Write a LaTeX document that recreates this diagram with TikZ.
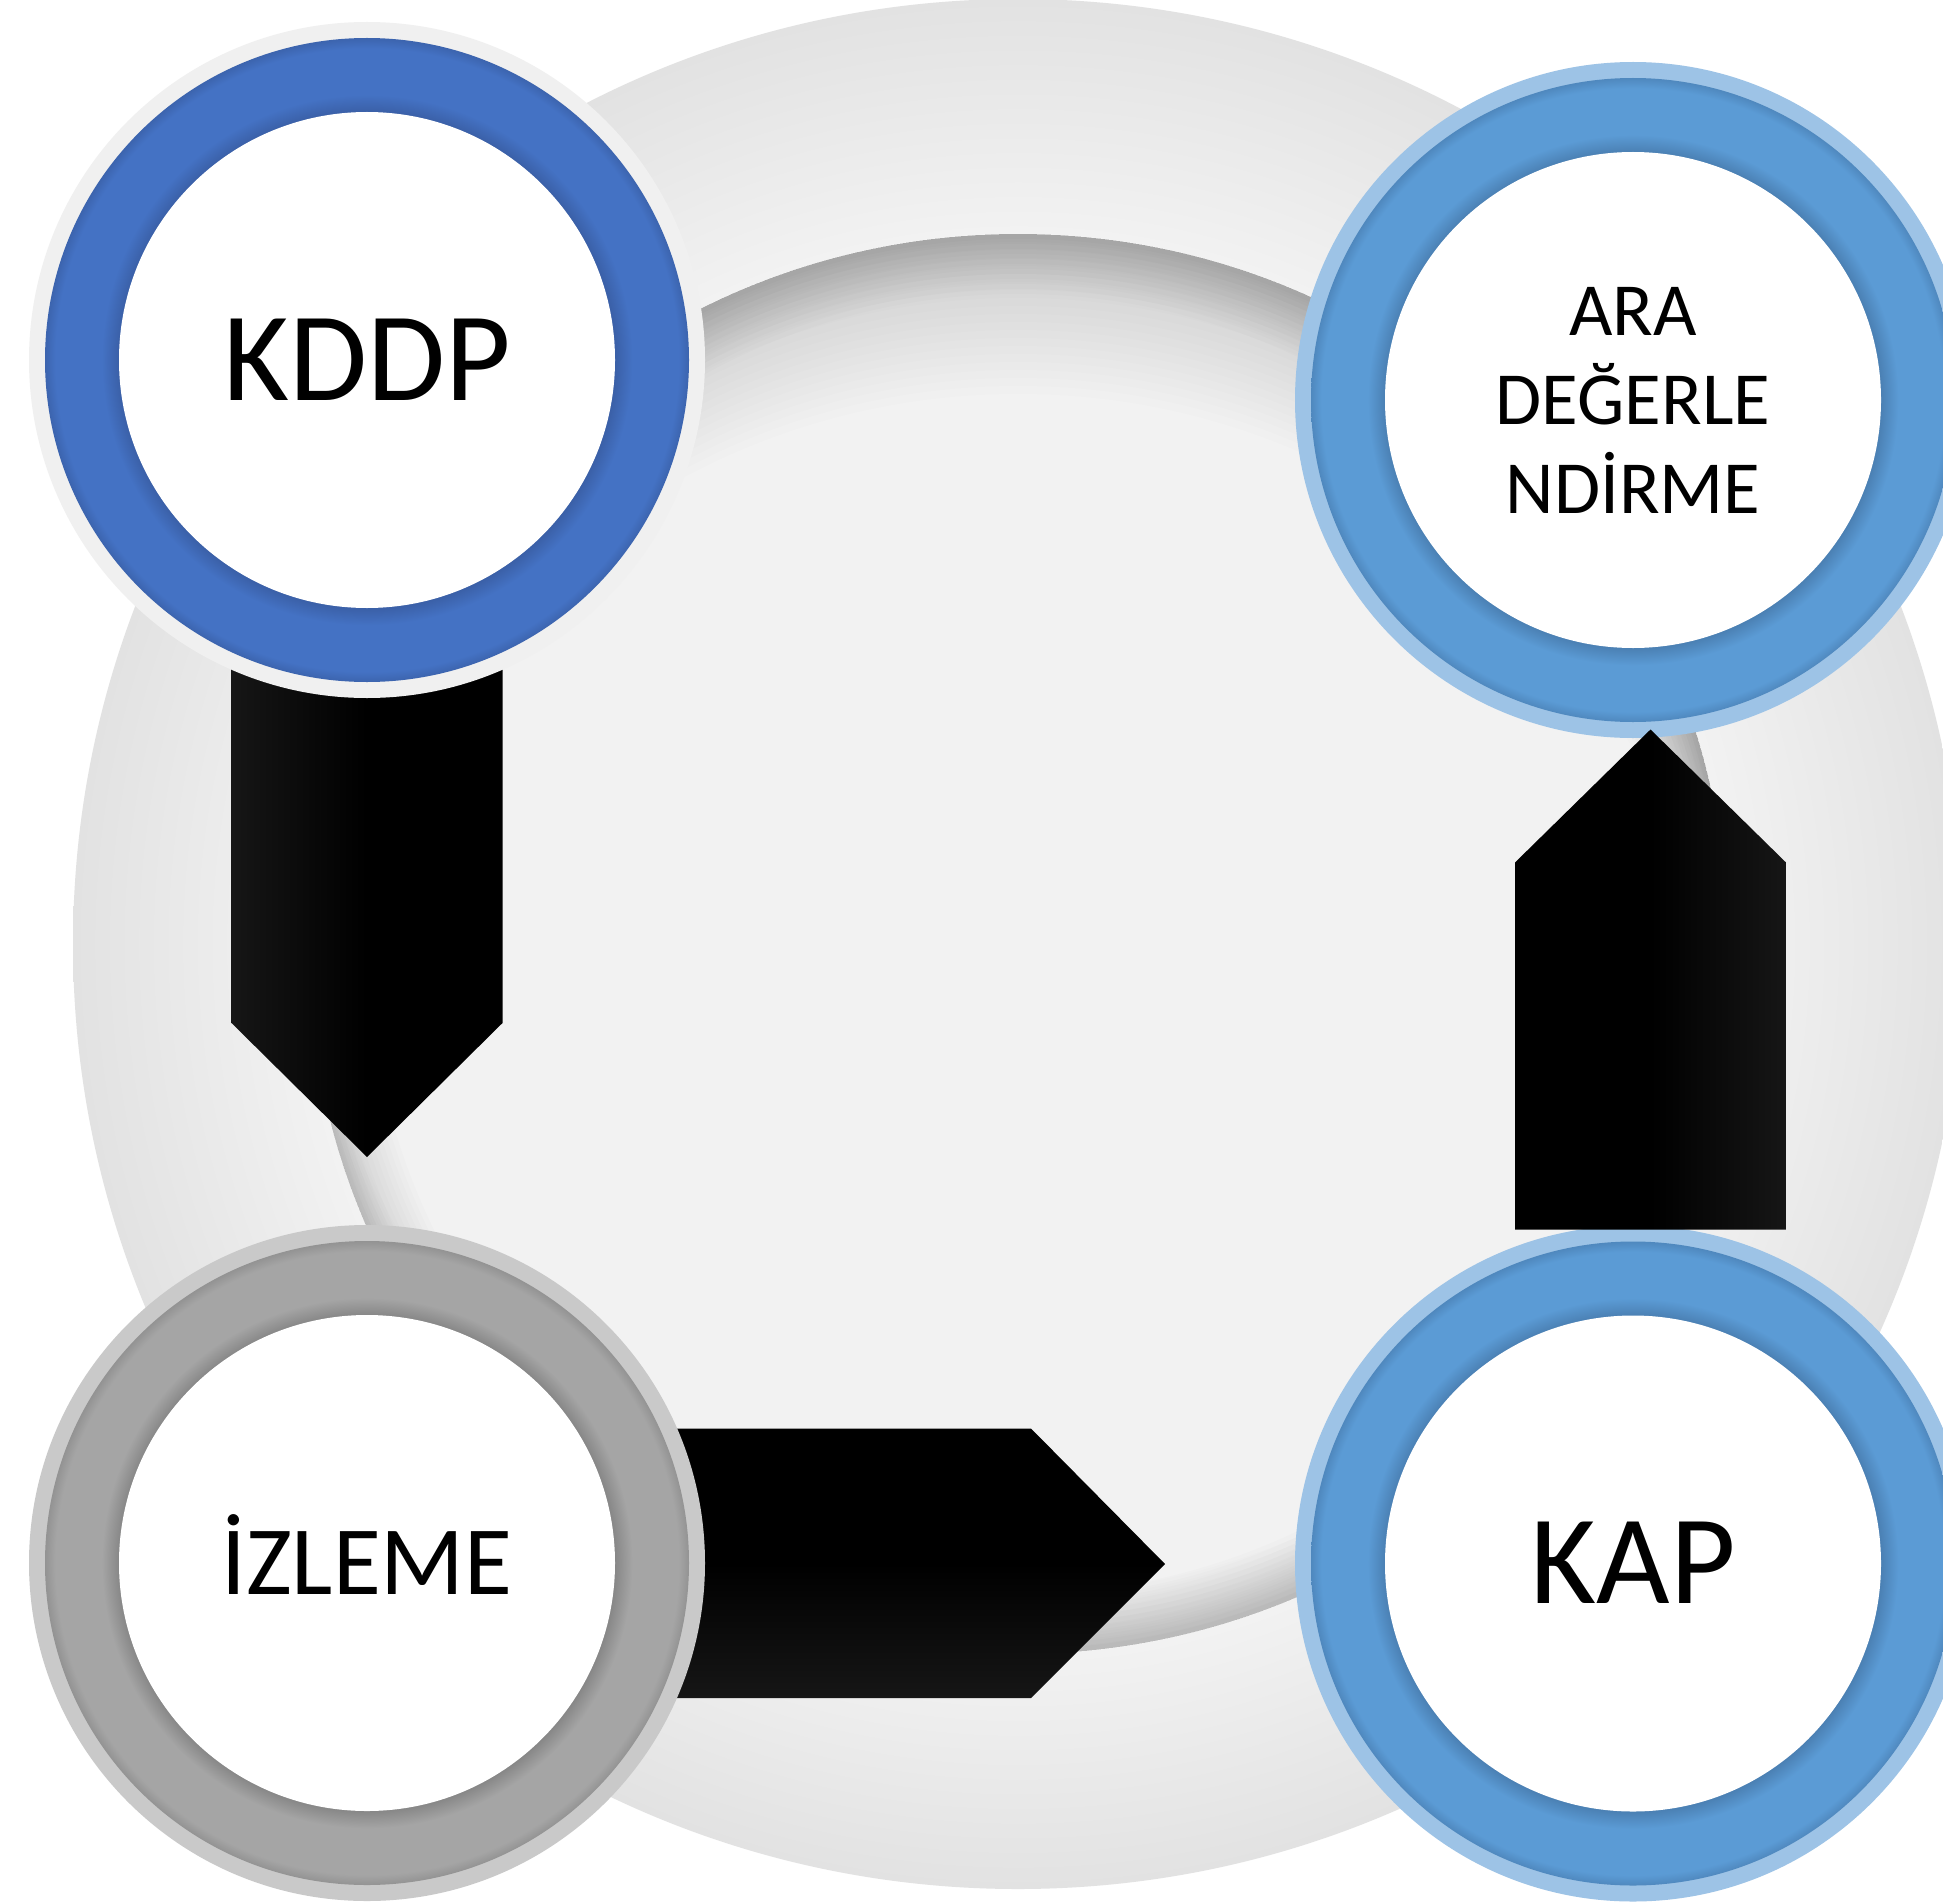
\documentclass[tikz,border=0pt]{standalone}
\usepackage{fontspec}
\setmainfont{Carlito}
\usetikzlibrary{calc}
\definecolor{kbase}{HTML}{4472C4}
\definecolor{kdark}{HTML}{3A5FA6}
\definecolor{kedge}{HTML}{3C64AE}
\definecolor{klight}{HTML}{F0F0F0}
\definecolor{bbase}{HTML}{5B9BD5}
\definecolor{bdark}{HTML}{4A7FB2}
\definecolor{bedge}{HTML}{4F88BE}
\definecolor{blight}{HTML}{9DC3E6}
\definecolor{gbase}{HTML}{A5A5A5}
\definecolor{gdark}{HTML}{868686}
\definecolor{gedge}{HTML}{939393}
\definecolor{glight}{HTML}{C9C9C9}
\definecolor{dinner}{HTML}{F2F2F2}
\definecolor{douter}{HTML}{E2E2E2}
\definecolor{discfill}{HTML}{F2F2F2}
\definecolor{agray}{HTML}{161616}
\pgfdeclareradialshading{ringK}{\pgfpointorigin}{color(0bp)=(kdark);color(19.2bp)=(kdark);color(20.6bp)=(kbase);color(24.2bp)=(kbase);color(25bp)=(kedge);color(50bp)=(kedge)}
\pgfdeclareradialshading{ringB}{\pgfpointorigin}{color(0bp)=(bdark);color(19.2bp)=(bdark);color(20.6bp)=(bbase);color(24.2bp)=(bbase);color(25bp)=(bedge);color(50bp)=(bedge)}
\pgfdeclareradialshading{ringG}{\pgfpointorigin}{color(0bp)=(gdark);color(19.2bp)=(gdark);color(20.6bp)=(gbase);color(24.2bp)=(gbase);color(25bp)=(gedge);color(50bp)=(gedge)}
\pgfdeclareradialshading{donutsh}{\pgfpointorigin}{color(0bp)=(dinner);color(18.8bp)=(dinner);color(25bp)=(douter);color(50bp)=(douter)}
\tikzset{
  disk/.style={circle, fill=white, minimum size=496pt, inner sep=0pt, text=black, align=center},
  bigtext/.style={font=\fontsize{127}{150}\selectfont, text height=80pt, text depth=0pt},
  midtext/.style={font=\fontsize{98}{118}\selectfont, text height=62pt, text depth=0pt},
  smalltext/.style={font=\fontsize{75}{89}\selectfont},
  blockarrow/.style={draw=none},
}
\begin{document}
\begin{tikzpicture}[x=1pt,y=-1pt]
\useasboundingbox (0,0) rectangle (1943,1902);
\clip (0,0) rectangle (1943,1902);
\fill[white] (0,0) rectangle (1943,1902);
% centres
\coordinate (c0) at (1018,944);
\coordinate (c1) at (367,360);
\coordinate (c2) at (1633,400);
\coordinate (c3) at (1633,1563.5);
\coordinate (c4) at (367,1563);
% background donut
\shade[shading=donutsh, even odd rule] (c0) circle[radius=945pt] (c0) circle[radius=710pt];
\fill[discfill] (c0) circle[radius=710pt];
\begin{scope}
  \clip (c0) circle[radius=710pt];
  \foreach \k in {1,...,12} {
    \draw[black, opacity=0.0105, line width=2*\k*5pt] (c0) circle[radius=710pt];
  }
  \foreach \k in {1,...,20} {
    \fill[black, opacity=0.0068, even odd rule] (c0) circle[radius=710pt] ($(c0)+(0,8*\k)$) circle[radius=710pt];
  }
  \foreach \k in {1,...,10} {
    \fill[black, opacity=0.008, even odd rule] (c0) circle[radius=710pt] ($(c0)+(0,-6*\k)$) circle[radius=710pt];
  }
\end{scope}
% down arrow (KDDP -> IZLEME) and right arrow (IZLEME -> KAP)
\shade[blockarrow, left color=agray, right color=black, middle color=black]
  ($(c1)+(-135.5,200)$) -- ($(c1)+(135.5,200)$) -- ($(c1)+(135.5,663)$)
  -- ($(c1)+(0,797)$) -- ($(c1)+(-135.5,663)$) -- cycle;
\shade[blockarrow, top color=black, bottom color=agray, middle color=black]
  ($(c4)+(200,-134.5)$) -- ($(c4)+(664,-134.5)$) -- ($(c4)+(798,1)$)
  -- ($(c4)+(664,135)$) -- ($(c4)+(200,135)$) -- cycle;
% circles
\fill[klight] (c1) circle[radius=338pt];
\shade[shading=ringK] (c1) circle[radius=322pt];
\node[disk, bigtext] (kddp) at (c1) {KDDP};
\fill[blight] (c2) circle[radius=338pt];
\shade[shading=ringB] (c2) circle[radius=322pt];
\node[disk, smalltext] (ara) at (c2) {ARA\\DEĞERLE\\NDİRME};
\fill[blight] (c3) circle[radius=338pt];
\shade[shading=ringB] (c3) circle[radius=322pt];
\node[disk, bigtext] (kap) at (c3) {KAP};
\fill[glight] (c4) circle[radius=338pt];
\shade[shading=ringG] (c4) circle[radius=322pt];
\node[disk, midtext] (izleme) at (c4) {İZLEME};
% up arrow (KAP -> ARA)
\shade[blockarrow, left color=black, right color=agray, middle color=black]
  ($(c3)+(-118,-334)$) -- ($(c3)+(153,-334)$) -- ($(c3)+(153,-701)$)
  -- ($(c3)+(17.5,-834)$) -- ($(c3)+(-118,-701)$) -- cycle;
\end{tikzpicture}
\end{document}
